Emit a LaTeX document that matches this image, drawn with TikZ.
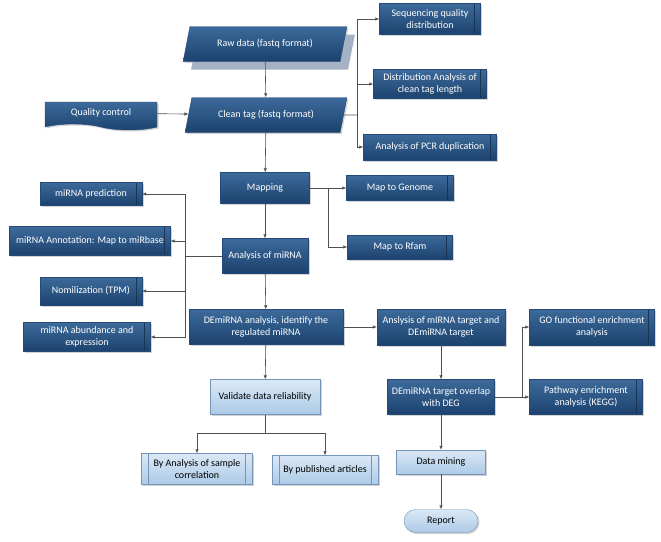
\documentclass[tikz,border=0pt]{standalone}
\usepackage{fontspec}
\setmainfont{Carlito}
\usetikzlibrary{shapes.geometric,shapes.symbols,shapes.misc,shadows,arrows.meta}
\definecolor{darktop}{RGB}{60,106,154}
\definecolor{darkbot}{RGB}{28,66,110}
\definecolor{darkline}{RGB}{36,74,120}
\definecolor{lighttop}{RGB}{218,232,246}
\definecolor{lightbot}{RGB}{172,202,230}
\definecolor{lightline}{RGB}{118,148,184}
\definecolor{conn}{RGB}{80,80,80}
\tikzset{
  base/.style = {
    font=\fontsize{10}{12.5}\selectfont, align=center, inner sep=0pt,
    drop shadow={shadow xshift=1.5pt,shadow yshift=-1.5pt,opacity=0.35}
  },
  darkbox/.style = {
    base, rectangle, text=white, draw=darkline,
    top color=darktop, bottom color=darkbot
  },
  lightbox/.style = {
    base, rectangle, text=black, draw=lightline,
    top color=lighttop, bottom color=lightbot
  },
  bar/.style = {
    path picture={\draw[darkline!70!black] ([xshift=-6pt]path picture bounding box.north east)
      -- ([xshift=-6pt]path picture bounding box.south east);}
  },
  bars/.style = {
    path picture={\draw[lightline] ([xshift=-7pt]path picture bounding box.north east)
      -- ([xshift=-7pt]path picture bounding box.south east);
      \draw[lightline] ([xshift=7pt]path picture bounding box.north west)
      -- ([xshift=7pt]path picture bounding box.south west);}
  },
  datashape/.style = {
    trapezium, trapezium left angle=64, trapezium right angle=116,
    trapezium stretches=true
  },
  arr/.style = {conn, line width=0.6pt, -{Latex[length=4pt,width=3.5pt]}},
  ln/.style = {conn, line width=0.6pt}
}

\begin{document}
\begin{tikzpicture}[x=1pt,y=-1pt]
  \useasboundingbox (0,0) rectangle (661,541);
  % input data
  \node[darkbox,datashape,minimum width=164pt,minimum height=35pt,
    drop shadow={shadow xshift=8pt,shadow yshift=-8pt,fill={rgb,255:red,165;green,178;blue,196},opacity=1}]
    (raw) at (265,44) {Raw data (fastq format)};
  \node[darkbox,datashape,minimum width=162pt,minimum height=35pt] (clean) at (266,115) {Clean tag (fastq format)};
  \node[darkbox,tape,tape bend top=none,tape bend bottom=out and in,tape bend height=6pt,
    minimum width=112pt,minimum height=28pt] (qc) at (101,113) {Quality control};
  % clean tag analysis
  \node[darkbox,bar,minimum width=101pt,minimum height=31pt] (seq) at (430,19) {Sequencing quality\\distribution};
  \node[darkbox,bar,minimum width=113pt,minimum height=29pt] (dist) at (430,84) {Distribution Analysis of\\clean tag length};
  \node[darkbox,bar,minimum width=133pt,minimum height=26pt] (pcr) at (430,147) {Analysis of PCR duplication};
  % mapping
  \node[darkbox,minimum width=89pt,minimum height=31pt] (mapping) at (265,188) {Mapping};
  \node[darkbox,bar,minimum width=107pt,minimum height=25pt] (genome) at (400,188) {Map to Genome};
  \node[darkbox,bar,minimum width=105pt,minimum height=24pt] (rfam) at (400,247) {Map to Rfam};
  % miRNA
  \node[darkbox,minimum width=86pt,minimum height=35pt] (mirna) at (265,256) {Analysis of miRNA};
  \node[darkbox,bar,minimum width=102pt,minimum height=23pt] (pred) at (91,194) {miRNA prediction};
  \node[darkbox,bar,minimum width=161pt,minimum height=29pt] (annot) at (90,241) {miRNA Annotation: Map to miRbase};
  \node[darkbox,bar,minimum width=102pt,minimum height=28pt] (norm) at (91,291) {Nomilization (TPM)};
  \node[darkbox,bar,minimum width=127pt,minimum height=29pt] (abund) at (87,337) {miRNA abundance and\\expression};
  \node[darkbox,minimum width=154pt,minimum height=35pt] (dem) at (266,327) {DEmiRNA analysis, identify the\\regulated miRNA};
  % targets
  \node[darkbox,minimum width=128pt,minimum height=36pt] (target) at (441,327) {Anslysis of mIRNA target and\\DEmiRNA target};
  \node[darkbox,bar,minimum width=125pt,minimum height=36pt] (go) at (592,327) {GO functional enrichment\\analysis};
  \node[darkbox,minimum width=107pt,minimum height=35pt] (overlap) at (441,397) {DEmiRNA target overlap\\with DEG};
  \node[darkbox,bar,minimum width=113pt,minimum height=35pt] (path) at (586,397) {Pathway enrichment\\analysis (KEGG)};
  % validation
  \node[lightbox,minimum width=110pt,minimum height=35pt] (valid) at (265,397) {Validate data reliability};
  \node[lightbox,bars,minimum width=111pt,minimum height=31pt] (samp) at (197,469) {By Analysis of sample\\correlation};
  \node[lightbox,bars,minimum width=106pt,minimum height=29pt] (pub) at (325,470) {By published articles};
  \node[lightbox,minimum width=89pt,minimum height=24pt] (mining) at (441,462) {Data mining};
  \node[lightbox,rounded rectangle,minimum width=74pt,minimum height=23pt] (report) at (441,521) {Report};
  % branch points
  \coordinate (b1) at (357,115);
  \coordinate (b2) at (328,188);
  \coordinate (b3) at (185,256);
  \coordinate (b4) at (522,397);
  \coordinate (b5) at (265,433);
  % connectors
  \draw[arr] (raw) -- (clean);
  \draw[arr] (qc) -- (clean);
  \draw[ln] (clean.east) -- (b1);
  \draw[arr] (b1) |- (seq);
  \draw[arr] (b1) |- (dist);
  \draw[arr] (b1) |- (pcr);
  \draw[arr] (clean) -- (mapping);
  \draw[ln] (mapping) -- (b2);
  \draw[arr] (b2) -- (genome);
  \draw[arr] (b2) |- (rfam);
  \draw[arr] (mapping) -- (mirna);
  \draw[ln] (mirna) -- (b3);
  \draw[arr] (b3) |- (pred);
  \draw[arr] (b3) |- (annot);
  \draw[arr] (b3) |- (norm);
  \draw[arr] (b3) |- (abund);
  \draw[arr] (mirna) -- (dem);
  \draw[arr] (dem) -- (target);
  \draw[arr] (dem) -- (valid);
  \draw[ln] (valid) -- (b5);
  \draw[arr] (b5) -| (samp);
  \draw[arr] (b5) -| (pub);
  \draw[arr] (target) -- (overlap);
  \draw[ln] (overlap) -- (b4);
  \draw[arr] (b4) |- (go);
  \draw[arr] (b4) -- (path);
  \draw[arr] (overlap) -- (mining);
  \draw[arr] (mining) -- (report);
\end{tikzpicture}
\end{document}
